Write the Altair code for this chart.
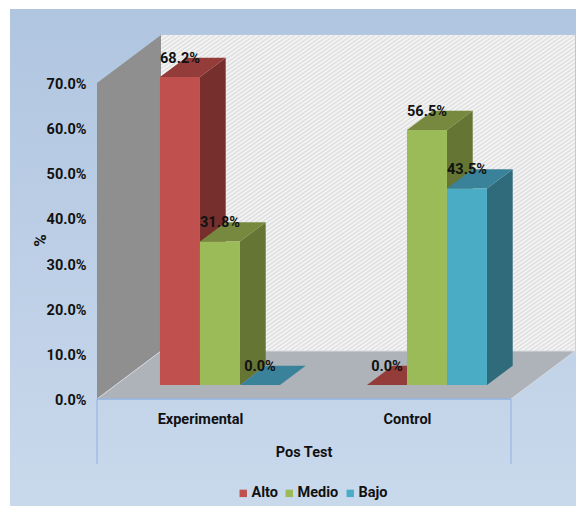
import altair as alt
import pandas as pd

# --- data ---
CATEGORIES = ["Experimental", "Control"]
SERIES = ["Alto", "Medio", "Bajo"]
VALUES = {
    "Alto": [68.2, 0.0],
    "Medio": [31.8, 56.5],
    "Bajo": [0.0, 43.5],
}
TICKS = [0, 10, 20, 30, 40, 50, 60, 70]
FRONT = ["#c0504d", "#9bbb59", "#4bacc6"]
SIDE = ["#772f2e", "#647534", "#306b7c"]
TOP = ["#943c39", "#76893f", "#3a8299"]

# --- scene (data units: x = one bar width, y = percent) ---
XDOM = [-2.225, 11.975]
YDOM = [-23.70, 86.61]
BOX_W = 10.35
Y_MAX = 70
DEPTH_X = 1.6          # box depth along x
DEPTH_Y = 10.63        # box depth along y
D0, D1 = 0.2917, 0.694  # bar depth range in the box
FONT = "Roboto"
FS = 14.5

X = lambda f="x": alt.X(f"{f}:Q", scale=alt.Scale(domain=XDOM, nice=False, zero=False), axis=None)
Y = lambda f="y": alt.Y(f"{f}:Q", scale=alt.Scale(domain=YDOM, nice=False, zero=False), axis=None)


def vband(rows, color, stroke=None):
    """vertical-edged parallelogram"""
    kw = {"stroke": stroke, "strokeWidth": 1} if stroke else {}
    return alt.Chart(pd.DataFrame(rows, columns=["x", "y", "y2"])).mark_area(color=color, **kw).encode(
        x=X(), y=Y(), y2="y2:Q")


def hband(rows, color, stroke=None):
    """horizontal-edged parallelogram"""
    kw = {"stroke": stroke, "strokeWidth": 1} if stroke else {}
    return alt.Chart(pd.DataFrame(rows, columns=["y", "x", "x2"])).mark_area(color=color, orient="horizontal", **kw).encode(
        y=Y(), x=X(), x2="x2:Q")


layers = []

# panel with the y axis
panel = alt.Chart(pd.DataFrame({"x": [-2.175], "x2": [XDOM[1]], "y": [YDOM[0]], "y2": [86.4]})).mark_rect(
    color=alt.LinearGradient(gradient="linear", x1=0, y1=0, x2=0, y2=1,
                             stops=[alt.GradientStop(color="#b0c5e0", offset=0),
                                    alt.GradientStop(color="#c9d9ec", offset=1)])
).encode(
    x=X(),
    x2="x2:Q",
    y=alt.Y("y:Q", scale=alt.Scale(domain=YDOM, nice=False, zero=False), axis=alt.Axis(
        values=TICKS, labelExpr="format(datum.value,'.1f')+'%'", offset=-89, domain=False, ticks=False,
        grid=False, labelPadding=11, labelOffset=1.5, labelFont=FONT, labelFontSize=FS, labelFontWeight="bold",
        labelColor="#111111", zindex=1, title="%", titleFont=FONT, titleFontSize=17, titleFontWeight="bold",
        titleColor="#111111", titleX=-57, titleY=232, titleAngle=270, titleBaseline="middle", titleAlign="center")),
    y2="y2:Q",
)
layers.append(panel)

# back wall with its diagonal hatch
layers.append(vband([[DEPTH_X, DEPTH_Y, DEPTH_Y + Y_MAX], [DEPTH_X + BOX_W, DEPTH_Y, DEPTH_Y + Y_MAX]], "#f3f3f3"))
PX_X, PX_Y = 1 / 40, 70 / 316      # data units per pixel
WALL_W, WALL_H = BOX_W / PX_X, Y_MAX / PX_Y
SLOPE, STEP = 0.7, 4.0
hatch = []
c = -SLOPE * WALL_W
while c < WALL_H:
    u0 = max(0.0, -c / SLOPE)
    u1 = min(WALL_W, (WALL_H - c) / SLOPE)
    hatch.append({
        "x": DEPTH_X + u0 * PX_X, "x2": DEPTH_X + u1 * PX_X,
        "y": DEPTH_Y + (c + SLOPE * u0) * PX_Y, "y2": DEPTH_Y + (c + SLOPE * u1) * PX_Y,
    })
    c += STEP
layers.append(alt.Chart(pd.DataFrame(hatch)).mark_rule(color="#dedede", strokeWidth=1.4).encode(
    x=X(), x2="x2:Q", y=Y(), y2="y2:Q"))

# left wall and floor
layers.append(vband([[0, 0, Y_MAX], [DEPTH_X, DEPTH_Y, DEPTH_Y + Y_MAX]], "#8f8f8f"))
layers.append(hband([[0, 0, BOX_W], [DEPTH_Y, DEPTH_X, DEPTH_X + BOX_W]], "#adb3b9", stroke="#d8dade"))

# frame below the floor
FRAME_BOTTOM = -14.4
layers.append(alt.Chart(pd.DataFrame({"x": [0, BOX_W], "y": [0, 0], "y2": [FRAME_BOTTOM, FRAME_BOTTOM]})).mark_rule(
    color="#8fb0e0", strokeWidth=1).encode(x=X(), y=Y(), y2="y2:Q"))
layers.append(alt.Chart(pd.DataFrame({"x": [0], "x2": [BOX_W], "y": [0]})).mark_rule(
    color="#8fb0e0", strokeWidth=1.5).encode(x=X(), x2="x2:Q", y=Y()))

# bars
labels = []
cat_w = BOX_W / len(CATEGORIES)
for c_i, cat in enumerate(CATEGORIES):
    center = (c_i + 0.5) * cat_w
    left0 = center + D0 * DEPTH_X - len(SERIES) / 2 + 0.02
    for s, ser in enumerate(SERIES):
        v = VALUES[ser][c_i]
        l = left0 + s
        r = l + 1
        y0 = D0 * DEPTH_Y
        y1 = D1 * DEPTH_Y
        dx = (D1 - D0) * DEPTH_X
        if v > 0:
            layers.append(vband([[r, y0, y0 + v], [r + dx, y1, y1 + v]], SIDE[s]))
        layers.append(hband([[y0 + v, l, r], [y1 + v, l + dx, r + dx]], TOP[s]))
        layers.append(alt.Chart(pd.DataFrame({"x": [l], "x2": [r], "y": [y0], "y2": [y0 + v], "serie": [ser]})).mark_rect().encode(
            x=X(), x2="x2:Q", y=Y(), y2="y2:Q",
            color=alt.Color("serie:N", scale=alt.Scale(domain=SERIES, range=FRONT), legend=alt.Legend(
                orient="none", legendX=228, legendY=478, direction="horizontal", title=None, symbolType="square",
                symbolSize=55, symbolStrokeWidth=0, labelFont=FONT, labelFontSize=FS, labelFontWeight="bold", labelColor="#111111",
                columnPadding=4, labelOffset=1, symbolOpacity=1))))
        labels.append({"x": l + 0.5, "y": y1 + v, "t": f"{v:.1f}%"})

layers.append(alt.Chart(pd.DataFrame(labels)).mark_text(
    font=FONT, fontSize=FS, fontWeight="bold", color="#111111", baseline="middle", align="center", dy=1
).encode(x=X(), y=Y(), text="t:N"))

# category labels and x title
cats = pd.DataFrame({"x": [(i + 0.5) * cat_w for i in range(len(CATEGORIES))], "y": [-4.6] * 2, "t": CATEGORIES})
layers.append(alt.Chart(cats).mark_text(font=FONT, fontSize=FS, fontWeight="bold", color="#111111").encode(
    x=X(), y=Y(), text="t:N"))
layers.append(alt.Chart(pd.DataFrame({"x": [BOX_W / 2], "y": [-12.0], "t": ["Pos Test"]})).mark_text(
    font=FONT, fontSize=FS, fontWeight="bold", color="#111111").encode(x=X(), y=Y(), text="t:N"))

chart = alt.layer(*layers).resolve_axis(x="independent", y="independent").properties(
    width=568, height=498, padding=0, autosize=alt.AutoSizeParams(type="none"), background="white"
).configure_view(stroke=None)

chart.save("out.html", embed_options={"renderer": "svg", "actions": False})
